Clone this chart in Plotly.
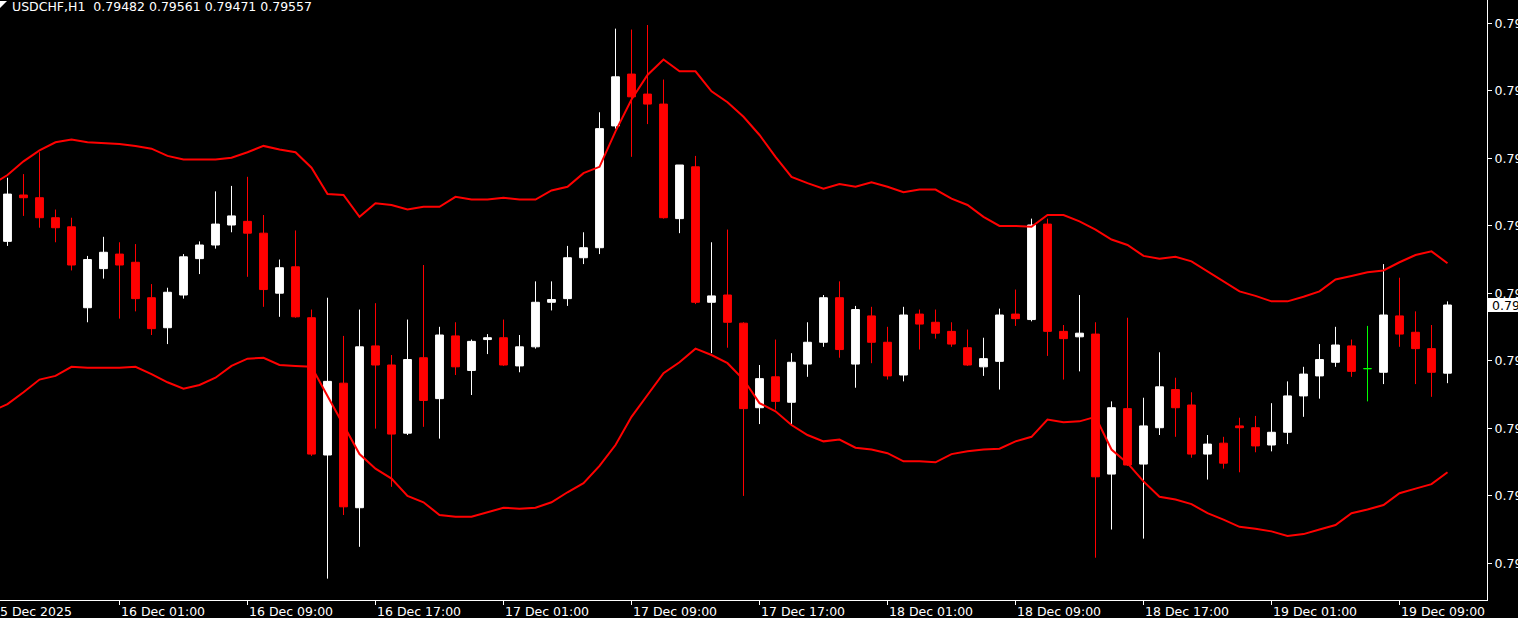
import pandas as pd
import plotly.graph_objects as go

# ---------------- data ----------------
symbol_label = "USDCHF,H1"
first_bar = "2025-12-15 18:00"          # first visible H1 candle
band_first = "2025-12-15 17:00"         # band line enters from the bar before

open_ = [0.79627, 0.79678, 0.79675, 0.79653, 0.79643, 0.79554, 0.79597, 0.79613, 0.79604, 0.79565,
         0.79532, 0.79568, 0.79608, 0.79623, 0.79645, 0.79649, 0.79636, 0.79570, 0.79599, 0.79543,
         0.79392, 0.79471, 0.79334, 0.79512, 0.79491, 0.79416, 0.79499, 0.79454, 0.79523, 0.79485,
         0.79519, 0.79521, 0.79490, 0.79511, 0.79560, 0.79564, 0.79609, 0.79620, 0.79754, 0.79811,
         0.79789, 0.79778, 0.79652, 0.79709, 0.79560, 0.79568, 0.79537, 0.79444, 0.79478, 0.79450,
         0.79492, 0.79516, 0.79565, 0.79492, 0.79545, 0.79516, 0.79480, 0.79547, 0.79538, 0.79528,
         0.79510, 0.79489, 0.79495, 0.79547, 0.79541, 0.79646, 0.79528, 0.79522, 0.79525, 0.79371,
         0.79443, 0.79382, 0.79422, 0.79464, 0.79447, 0.79393, 0.79405, 0.79424, 0.79422, 0.79403,
         0.79417, 0.79457, 0.79479, 0.79494, 0.79512, 0.79487, 0.79483, 0.79545, 0.79527, 0.79509,
         0.79482]

high = [0.79697, 0.79701, 0.79725, 0.79662, 0.79653, 0.79611, 0.79632, 0.79626, 0.79624, 0.79580,
        0.79576, 0.79613, 0.79627, 0.79682, 0.79688, 0.79698, 0.79656, 0.79607, 0.79639, 0.79552,
        0.79565, 0.79523, 0.79552, 0.79559, 0.79502, 0.79541, 0.79601, 0.79533, 0.79538, 0.79519,
        0.79525, 0.79541, 0.79524, 0.79583, 0.79583, 0.79622, 0.79637, 0.79769, 0.79861, 0.79860,
        0.79865, 0.79805, 0.79711, 0.79721, 0.79626, 0.79640, 0.79538, 0.79491, 0.79519, 0.79504,
        0.79538, 0.79568, 0.79583, 0.79556, 0.79555, 0.79533, 0.79555, 0.79552, 0.79552, 0.79538,
        0.79530, 0.79521, 0.79553, 0.79574, 0.79652, 0.79652, 0.79535, 0.79568, 0.79538, 0.79451,
        0.79543, 0.79455, 0.79505, 0.79477, 0.79461, 0.79414, 0.79412, 0.79433, 0.79435, 0.79449,
        0.79473, 0.79489, 0.79514, 0.79533, 0.79519, 0.79534, 0.79602, 0.79587, 0.79550, 0.79535,
        0.79561]

low = [0.79622, 0.79655, 0.79642, 0.79626, 0.79595, 0.79538, 0.79586, 0.79542, 0.79550, 0.79524,
       0.79514, 0.79564, 0.79591, 0.79619, 0.79637, 0.79588, 0.79555, 0.79544, 0.79543, 0.79391,
       0.79256, 0.79326, 0.79291, 0.79421, 0.79357, 0.79414, 0.79423, 0.79410, 0.79480, 0.79458,
       0.79503, 0.79490, 0.79483, 0.79509, 0.79551, 0.79556, 0.79602, 0.79613, 0.79751, 0.79720,
       0.79756, 0.79652, 0.79636, 0.79558, 0.79504, 0.79510, 0.79347, 0.79426, 0.79442, 0.79425,
       0.79478, 0.79511, 0.79499, 0.79466, 0.79493, 0.79475, 0.79473, 0.79508, 0.79520, 0.79511,
       0.79490, 0.79479, 0.79464, 0.79534, 0.79539, 0.79501, 0.79475, 0.79484, 0.79279, 0.79310,
       0.79380, 0.79300, 0.79414, 0.79412, 0.79389, 0.79365, 0.79377, 0.79373, 0.79395, 0.79396,
       0.79404, 0.79434, 0.79454, 0.79489, 0.79478, 0.79451, 0.79470, 0.79511, 0.79470, 0.79456,
       0.79471]

close = [0.79679, 0.79675, 0.79653, 0.79642, 0.79601, 0.79607, 0.79615, 0.79601, 0.79564, 0.79531,
         0.79571, 0.79610, 0.79623, 0.79646, 0.79655, 0.79636, 0.79574, 0.79598, 0.79544, 0.79393,
         0.79473, 0.79335, 0.79511, 0.79491, 0.79415, 0.79497, 0.79452, 0.79524, 0.79489, 0.79517,
         0.79521, 0.79491, 0.79511, 0.79560, 0.79563, 0.79609, 0.79620, 0.79751, 0.79808, 0.79786,
         0.79778, 0.79653, 0.79711, 0.79560, 0.79567, 0.79538, 0.79443, 0.79476, 0.79451, 0.79494,
         0.79516, 0.79565, 0.79508, 0.79552, 0.79516, 0.79479, 0.79546, 0.79536, 0.79526, 0.79514,
         0.79491, 0.79498, 0.79546, 0.79542, 0.79645, 0.79528, 0.79520, 0.79526, 0.79368, 0.79444,
         0.79381, 0.79424, 0.79467, 0.79444, 0.79393, 0.79404, 0.79383, 0.79422, 0.79402, 0.79417,
         0.79457, 0.79481, 0.79497, 0.79513, 0.79484, 0.79487, 0.79546, 0.79525, 0.79509, 0.79483,
         0.79557]

upper_band = [0.79689,
              0.79700, 0.79715, 0.79727, 0.79736, 0.79739, 0.79736, 0.79735, 0.79734, 0.79732, 0.79729,
              0.79721, 0.79717, 0.79717, 0.79717, 0.79719, 0.79725, 0.79732, 0.79728, 0.79725, 0.79708,
              0.79679, 0.79678, 0.79654, 0.79669, 0.79667, 0.79662, 0.79665, 0.79665, 0.79676, 0.79673,
              0.79673, 0.79675, 0.79673, 0.79673, 0.79683, 0.79687, 0.79702, 0.79709, 0.79748, 0.79783,
              0.79810, 0.79827, 0.79814, 0.79814, 0.79792, 0.79780, 0.79764, 0.79744, 0.79720, 0.79698,
              0.79691, 0.79685, 0.79690, 0.79687, 0.79692, 0.79687, 0.79681, 0.79684, 0.79684, 0.79674,
              0.79667, 0.79654, 0.79644, 0.79644, 0.79643, 0.79656, 0.79656, 0.79649, 0.79640, 0.79629,
              0.79623, 0.79611, 0.79608, 0.79610, 0.79605, 0.79594, 0.79583, 0.79572, 0.79567, 0.79561,
              0.79561, 0.79566, 0.79572, 0.79585, 0.79589, 0.79593, 0.79595, 0.79604, 0.79612, 0.79616,
              0.79603]

lower_band = [0.79440,
              0.79448, 0.79461, 0.79475, 0.79479, 0.79489, 0.79488, 0.79488, 0.79488, 0.79489, 0.79481,
              0.79472, 0.79465, 0.79469, 0.79477, 0.79490, 0.79498, 0.79499, 0.79491, 0.79490, 0.79489,
              0.79457, 0.79425, 0.79393, 0.79377, 0.79366, 0.79347, 0.79340, 0.79326, 0.79324, 0.79324,
              0.79329, 0.79334, 0.79333, 0.79334, 0.79340, 0.79351, 0.79361, 0.79380, 0.79403, 0.79434,
              0.79458, 0.79482, 0.79494, 0.79509, 0.79502, 0.79493, 0.79475, 0.79449, 0.79440, 0.79425,
              0.79414, 0.79407, 0.79409, 0.79400, 0.79398, 0.79394, 0.79385, 0.79385, 0.79384, 0.79393,
              0.79396, 0.79398, 0.79399, 0.79407, 0.79412, 0.79431, 0.79428, 0.79429, 0.79434, 0.79398,
              0.79383, 0.79363, 0.79346, 0.79343, 0.79338, 0.79328, 0.79321, 0.79313, 0.79311, 0.79308,
              0.79303, 0.79305, 0.79310, 0.79315, 0.79328, 0.79332, 0.79337, 0.79350, 0.79355, 0.79360,
              0.79373]

price_ticks = [0.79867, 0.79793, 0.79718, 0.79644, 0.79570, 0.79496, 0.79421, 0.79347, 0.79273]
time_ticks = ["2025-12-16 01:00", "2025-12-16 09:00", "2025-12-16 17:00", "2025-12-17 01:00",
              "2025-12-17 09:00", "2025-12-17 17:00", "2025-12-18 01:00", "2025-12-18 09:00",
              "2025-12-18 17:00", "2025-12-19 01:00", "2025-12-19 09:00"]
first_date_label = "15 Dec 2025"

# ---------------- build figure ----------------
FONT = "DejaVu Sans"
FS = 12.5
times = pd.date_range(first_bar, periods=len(open_), freq="h")
band_times = pd.date_range(band_first, periods=len(upper_band), freq="h")

is_doji = [o == c for o, c in zip(open_, close)]
norm_idx = [i for i, d in enumerate(is_doji) if not d]
doji_idx = [i for i, d in enumerate(is_doji) if d]

def pick(arr, idx):
    return [arr[i] for i in idx]

fig = go.Figure()

fig.add_trace(go.Scatter(x=band_times, y=upper_band, mode="lines",
                         line=dict(color="#ff0000", width=2), hoverinfo="skip", showlegend=False))
fig.add_trace(go.Scatter(x=band_times, y=lower_band, mode="lines",
                         line=dict(color="#ff0000", width=2), hoverinfo="skip", showlegend=False))

fig.add_trace(go.Candlestick(
    x=pick(times, norm_idx), open=pick(open_, norm_idx), high=pick(high, norm_idx),
    low=pick(low, norm_idx), close=pick(close, norm_idx),
    increasing=dict(line=dict(color="#ffffff", width=1), fillcolor="#ffffff"),
    decreasing=dict(line=dict(color="#ff0000", width=1), fillcolor="#ff0000"),
    whiskerwidth=0, hoverinfo="skip", showlegend=False))

fig.add_trace(go.Candlestick(
    x=pick(times, doji_idx), open=pick(open_, doji_idx), high=pick(high, doji_idx),
    low=pick(low, doji_idx), close=pick(close, doji_idx),
    increasing=dict(line=dict(color="#00ff00", width=1), fillcolor="#00ff00"),
    decreasing=dict(line=dict(color="#00ff00", width=1), fillcolor="#00ff00"),
    whiskerwidth=0, hoverinfo="skip", showlegend=False))

# 16 px per hour; candle centres on half pixels so 1-px wicks stay crisp
x_start = times[0] - pd.Timedelta(minutes=28, seconds=7.5)
x_end = x_start + pd.Timedelta(hours=92, minutes=56, seconds=15)

annotations = []
# header
annotations.append(dict(
    xref="paper", yref="paper", x=0, y=1, xanchor="left", yanchor="top",
    xshift=12, yshift=1, showarrow=False, borderpad=0, borderwidth=0,
    text=f"{symbol_label}  {open_[-1]:.5f} {high[-1]:.5f} {low[-1]:.5f} {close[-1]:.5f}",
    font=dict(family=FONT, size=FS, color="#ffffff")))
# time labels (left-aligned on their ticks, as in MetaTrader)
for t in time_ticks:
    ts = pd.Timestamp(t)
    annotations.append(dict(
        xref="x", yref="paper", x=ts, y=0, xanchor="left", yanchor="top",
        xshift=1, yshift=-4, showarrow=False, borderpad=0, borderwidth=0,
        text=f"{ts.day} {ts.strftime('%b %H:%M')}",
        font=dict(family=FONT, size=FS, color="#ffffff")))
annotations.append(dict(
    xref="paper", yref="paper", x=0, y=0, xanchor="left", yanchor="top",
    xshift=-8, yshift=-4, showarrow=False, borderpad=0, borderwidth=0,
    text=first_date_label, font=dict(family=FONT, size=FS, color="#ffffff")))
# current price label
annotations.append(dict(
    xref="paper", yref="y", x=1, y=close[-1], xanchor="left", yanchor="middle",
    xshift=5, showarrow=False, borderpad=0, borderwidth=0,
    text=f"{close[-1]:.5f}", font=dict(family=FONT, size=FS, color="#000000")))

shapes = [
    dict(type="rect", xref="paper", yref="y", xsizemode="pixel", ysizemode="pixel",
         xanchor=1, yanchor=close[-1], x0=1, x1=60, y0=-7, y1=7,
         fillcolor="#ffffff", line=dict(width=0), layer="below"),
    dict(type="path", xref="paper", yref="paper", xsizemode="pixel", ysizemode="pixel",
         xanchor=0, yanchor=1, path="M0,-1 L7,-1 L0,-8 Z",
         fillcolor="#ffffff", line=dict(width=0)),
]

fig.update_layout(
    width=1518, height=618,
    margin=dict(l=0, r=31, t=0, b=18, pad=0, autoexpand=False),
    paper_bgcolor="#000000", plot_bgcolor="#000000",
    showlegend=False, hovermode=False, boxgap=0.3,
    annotations=annotations, shapes=shapes,
    xaxis=dict(type="date", range=[x_start, x_end], rangeslider=dict(visible=False),
               automargin=False,
               showgrid=False, zeroline=False, showline=True, linecolor="#ffffff", linewidth=1,
               tickmode="array", tickvals=[pd.Timestamp(t) for t in time_ticks],
               ticks="outside", ticklen=4, tickcolor="#ffffff", tickwidth=1,
               showticklabels=False, fixedrange=True),
    yaxis=dict(side="right", range=[0.792325, 0.798925], showgrid=False, zeroline=False,
               automargin=False,
               showline=True, linecolor="#ffffff", linewidth=1,
               tickmode="array", tickvals=price_ticks, ticktext=[f"{v:.5f}" for v in price_ticks],
               ticks="outside", ticklen=4, tickcolor="#ffffff", tickwidth=1,
               tickfont=dict(family=FONT, size=FS, color="#ffffff"), fixedrange=True),
)

fig.write_html("out.html", config={"displayModeBar": False},
               post_script="document.body.style.margin='0';document.body.style.overflow='hidden';")
